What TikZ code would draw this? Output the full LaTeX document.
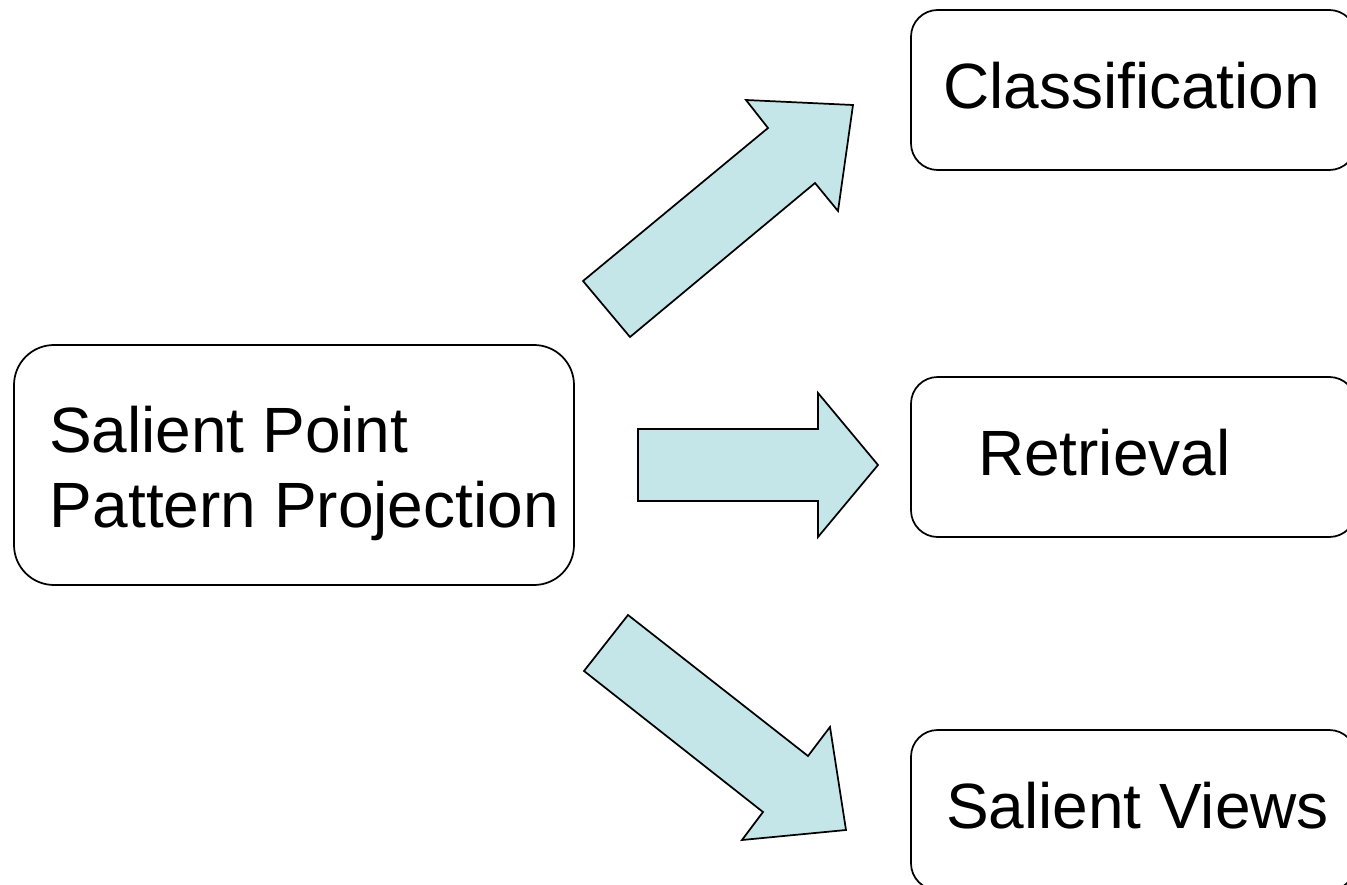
\documentclass[tikz,border=0pt]{standalone}
\usepackage{fontspec}
\setmainfont{Liberation Sans}
\begin{document}
\begin{tikzpicture}[x=0.75pt, y=-0.75pt,
  every node/.style={inner sep=0pt, outer sep=0pt},
  roundbox/.style={draw=black, line width=1.3pt, rounded corners=20pt,
    minimum width=333.75pt, minimum height=120pt},
  bigbox/.style={draw=black, line width=1.3pt, rounded corners=30pt,
    minimum width=420pt, minimum height=180pt},
  boxtext/.style={anchor=base west, font=\fontsize{48}{56.25}\selectfont},
  blockarrow/.style={draw=black, line width=1.3pt, fill=arrowfill, line join=miter}]
\definecolor{arrowfill}{RGB}{196,230,233}
\useasboundingbox (0,0) rectangle (1347,885);

% boxes
\node[bigbox] (src) at (294,465) {};
\node[roundbox] (cls) at (1133.5,90) {};
\node[roundbox] (ret) at (1133.5,457) {};
\node[roundbox] (views) at (1133.5,810) {};

% box texts
\node[boxtext] (srcA) at (49,452) {Salient Point};
\node[boxtext] (srcB) at (50,527) {Pattern Projection};
\node[boxtext] (clsT) at (943,108) {Classification};
\node[boxtext] (retT) at (978,475) {Retrieval};
\node[boxtext] (viewsT) at (946,828) {Salient Views};

% block arrows
\draw[blockarrow] (583,281) -- (768,128) -- (746,100) -- (853,105)
  -- (838,211) -- (815,183) -- (630,337) -- cycle;
\draw[blockarrow] (638,429) -- (818,429) -- (818,393) -- (878,465)
  -- (818,537) -- (818,501) -- (638,501) -- cycle;
\draw[blockarrow] (628,615) -- (808,756) -- (830,727) -- (846,830)
  -- (742,840) -- (763,812) -- (584,671) -- cycle;
\end{tikzpicture}
\end{document}
